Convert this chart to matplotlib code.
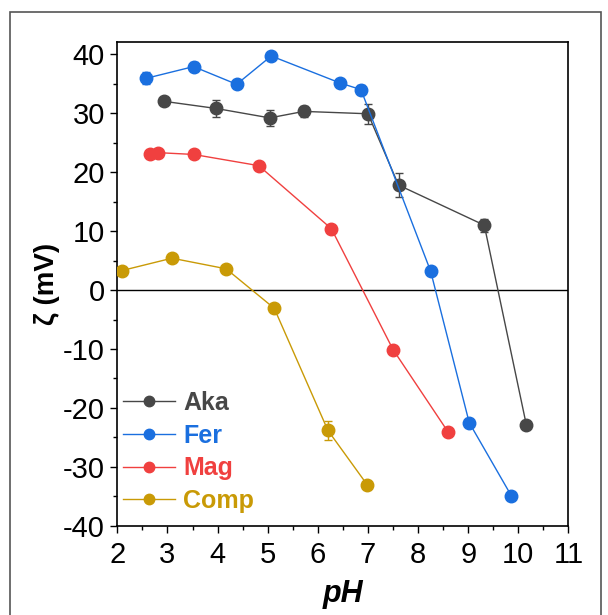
import matplotlib.pyplot as plt
from matplotlib.lines import Line2D
from matplotlib.patches import Rectangle
from matplotlib.ticker import MultipleLocator

plt.rcParams['font.family'] = ['Liberation Sans', 'DejaVu Sans']
plt.rcParams['axes.unicode_minus'] = False

# zeta potential vs pH
aka_ph = [2.94, 3.97, 5.04, 5.72, 7.0, 7.61, 9.32, 10.16]
aka_z = [32.0, 30.8, 29.2, 30.3, 29.9, 17.8, 11.0, -22.9]
aka_err = [0.4, 1.5, 1.3, 1.0, 1.7, 2.0, 1.1, 0.4]

fer_ph = [2.57, 3.52, 4.38, 5.07, 6.45, 6.86, 8.25, 9.02, 9.86]
fer_z = [35.9, 37.9, 34.9, 39.7, 35.1, 34.0, 3.2, -22.5, -34.9]
fer_err = [1.0, 0.8, 0.5, 0.5, 0.5, 0.8, 0.4, 0.5, 0.7]

mag_ph = [2.65, 2.82, 3.52, 4.82, 6.27, 7.5, 8.6]
mag_z = [23.0, 23.3, 23.0, 21.1, 10.4, -10.1, -24.1]
mag_err = [0.5, 0.4, 0.4, 0.5, 0.4, 0.4, 0.4]

comp_ph = [2.09, 3.09, 4.17, 5.13, 6.2, 6.99]
comp_z = [3.3, 5.4, 3.6, -3.1, -23.8, -33.1]
comp_err = [0.3, 0.3, 0.4, 0.4, 1.6, 0.3]

names = ['Aka', 'Fer', 'Mag', 'Comp']
colors = ['#474747', '#1a6fdf', '#f0403f', '#c99a06']

fig = plt.figure(figsize=(6.08, 6.15), dpi=100)
ax = fig.add_axes([0.193, 0.145, 0.742, 0.786])

# outer frame
fig.patches.append(Rectangle((10 / 608, -0.05), 591 / 608, 1 - 12 / 615 + 0.05,
                             transform=fig.transFigure, fill=False,
                             edgecolor='#555555', linewidth=1.2))

ax.axhline(0, color='black', linewidth=1, zorder=1)

series = [(aka_ph, aka_z, aka_err), (fer_ph, fer_z, fer_err),
          (mag_ph, mag_z, mag_err), (comp_ph, comp_z, comp_err)]
handles = []
for (x, y, e), name, c in zip(series, names, colors):
    ax.errorbar(x, y, yerr=e, color=c, linewidth=1, marker='o', markersize=9,
                elinewidth=1, capsize=3, capthick=1, ecolor=c, zorder=3)
    handles.append(Line2D([], [], color=c, linewidth=1, marker='o',
                          markersize=7.5, label=name))

ax.set_xlim(2, 11)
ax.set_ylim(-40, 42)
ax.xaxis.set_major_locator(MultipleLocator(1))
ax.xaxis.set_minor_locator(MultipleLocator(0.5))
ax.yaxis.set_major_locator(MultipleLocator(10))
ax.yaxis.set_minor_locator(MultipleLocator(5))
ax.tick_params(which='major', direction='out', length=5, width=1,
               labelsize=21, pad=4)
ax.tick_params(axis='x', which='major', pad=6)
ax.tick_params(which='minor', direction='out', length=3, width=1)
for s in ax.spines.values():
    s.set_linewidth(1.2)

ax.set_xlabel('pH', fontsize=22, fontweight='bold', fontstyle='italic', labelpad=7)
ax.set_ylabel('ζ (mV)', fontsize=20, fontweight='bold', labelpad=2)

leg = ax.legend(handles=handles, loc='lower left', bbox_to_anchor=(0.007, 0.021),
                frameon=False, handlelength=2.08, handletextpad=0.32,
                labelspacing=0.35, borderpad=0.1, borderaxespad=0,
                prop={'weight': 'bold', 'size': 18})
for txt, c in zip(leg.get_texts(), colors):
    txt.set_color(c)

fig.savefig('out.png', dpi=100)
